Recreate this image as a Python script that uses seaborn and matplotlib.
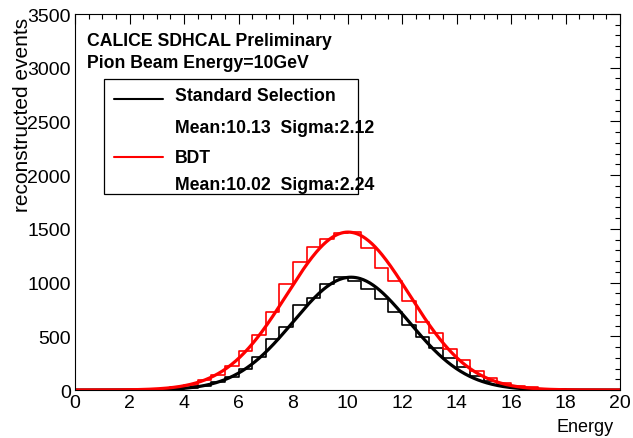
import matplotlib
matplotlib.use("Agg")
import matplotlib.pyplot as plt
import numpy as np
import pandas as pd
import seaborn as sns
from matplotlib.patches import Rectangle
from matplotlib.ticker import MultipleLocator

# binned energy distributions (40 bins of 0.5 from 0 to 20)
std_counts = [0, 0, 0, 0, 0, 1, 3, 8, 18, 40,
              71, 118, 195, 310, 478, 584, 790, 860, 990, 1049,
              1018, 940, 847, 723, 605, 490, 390, 300, 210, 132,
              85, 46, 22, 10, 5, 2, 1, 0, 0, 0]
bdt_counts = [0, 0, 0, 1, 3, 6, 12, 25, 50, 90,
              140, 220, 366, 512, 723, 985, 1195, 1328, 1406, 1462,
              1468, 1319, 1135, 1018, 832, 630, 530, 382, 280, 177,
              109, 62, 40, 25, 12, 6, 3, 1, 0, 0]

# gaussian fit parameters
std_fit = {"amp": 1050, "mean": 10.13, "sigma": 2.12}
bdt_fit = {"amp": 1470, "mean": 10.02, "sigma": 2.24}

centers = np.arange(40) * 0.5 + 0.25
df_std = pd.DataFrame({"energy": centers, "n": std_counts})
df_bdt = pd.DataFrame({"energy": centers, "n": bdt_counts})
xfit = np.linspace(0, 20, 500)


def gaus(p):
    return p["amp"] * np.exp(-(xfit - p["mean"]) ** 2 / (2 * p["sigma"] ** 2))


sns.set_theme(style="white")
plt.rcParams["font.family"] = ["Liberation Sans", "DejaVu Sans"]
plt.rcParams["text.color"] = "black"
plt.rcParams["xtick.direction"] = "in"
plt.rcParams["ytick.direction"] = "in"

fig = plt.figure(figsize=(6.33, 4.39), dpi=100)
ax = fig.add_axes([0.1185, 0.1093, 0.861, 0.8565])

sns.histplot(data=df_std, x="energy", weights="n", binwidth=0.5, binrange=(0, 20),
             element="step", fill=False, color="black", linewidth=1.2, ax=ax)
sns.histplot(data=df_bdt, x="energy", weights="n", binwidth=0.5, binrange=(0, 20),
             element="step", fill=False, color="#ff0000", linewidth=1.2, ax=ax)
sns.lineplot(x=xfit, y=gaus(std_fit), color="black", linewidth=2.3, ax=ax)
sns.lineplot(x=xfit, y=gaus(bdt_fit), color="#ff0000", linewidth=2.3, ax=ax)

ax.set_xlim(0, 20)
ax.set_ylim(0, 3500)
ax.xaxis.set_major_locator(MultipleLocator(2))
ax.xaxis.set_minor_locator(MultipleLocator(0.5))
ax.yaxis.set_major_locator(MultipleLocator(500))
ax.yaxis.set_minor_locator(MultipleLocator(100))
ax.tick_params(which="both", top=True, right=True, labelsize=14, colors="black")
ax.tick_params(which="major", length=7, width=0.8, pad=3)
ax.tick_params(which="minor", length=3.5, width=0.8)
for s in ax.spines.values():
    s.set_color("black")
    s.set_linewidth(0.8)
ax.grid(False)

ax.set_xlabel("")
ax.set_ylabel("")
ax.text(0.989, -0.109, "Energy", transform=ax.transAxes, ha="right",
        va="baseline", fontsize=13)
ax.text(-0.097, 0.992, "reconstructed events", transform=ax.transAxes,
        rotation=90, ha="center", va="top", fontsize=15)

ax.text(0.022, 0.9176, "CALICE SDHCAL Preliminary", transform=ax.transAxes,
        fontsize=12.7, fontweight="bold", va="baseline")
ax.text(0.022, 0.859, "Pion Beam Energy=10GeV", transform=ax.transAxes,
        fontsize=12.7, fontweight="bold", va="baseline")

# legend box
ax.add_patch(Rectangle((0.0532, 0.521), 0.4658, 0.306, transform=ax.transAxes,
                       fill=False, edgecolor="black", linewidth=0.9))
ax.plot([0.0716, 0.1615], [0.774, 0.774], color="black", linewidth=1.5,
        transform=ax.transAxes)
ax.plot([0.0716, 0.1615], [0.619, 0.619], color="#ff0000", linewidth=1.5,
        transform=ax.transAxes)
leg_rows = [("Standard Selection", 0.771),
            ("Mean:10.13  Sigma:2.12", 0.685),
            ("BDT", 0.606),
            ("Mean:10.02  Sigma:2.24", 0.535)]
for txt, yy in leg_rows:
    ax.text(0.1835, yy, txt, transform=ax.transAxes, fontsize=12.7,
            fontweight="bold", va="baseline")

fig.savefig("out.png", dpi=100)
